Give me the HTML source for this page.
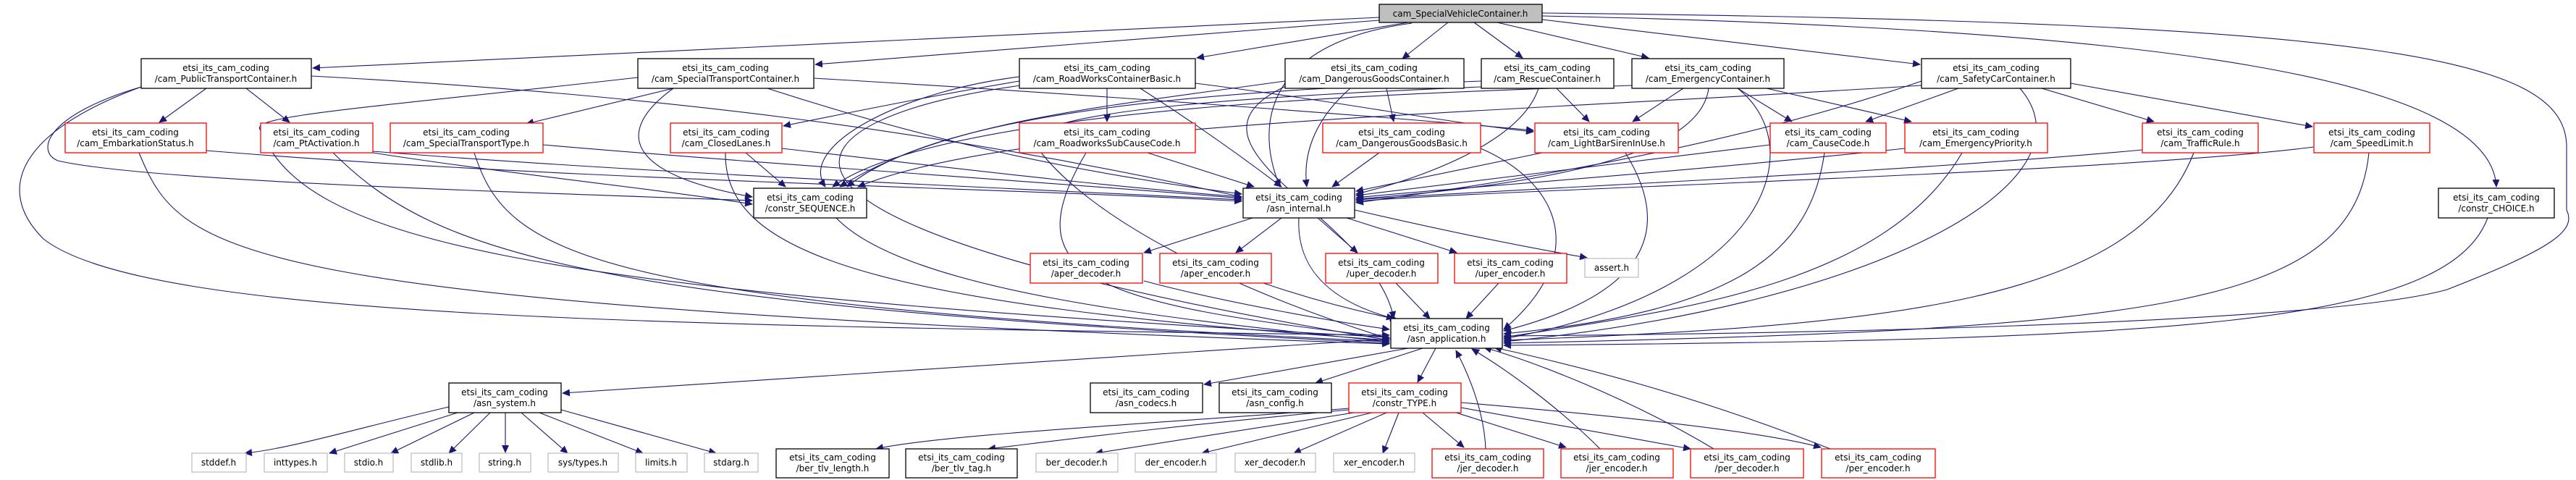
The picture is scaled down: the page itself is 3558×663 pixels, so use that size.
<!DOCTYPE html>
<html><head><meta charset="utf-8"><style>
html,body{margin:0;padding:0;background:#fff;}
svg{display:block;}
text{font-family:"DejaVu Sans","Liberation Sans",sans-serif;font-size:12px;fill:#000;}
.b{fill:#fff;stroke:#000;stroke-width:1.3}
.r{fill:#fff;stroke:#ff0000;stroke-width:1.3}
.g{fill:#fff;stroke:#bfbfbf;stroke-width:1.3}
.e{fill:none;stroke:#191970;stroke-width:1.1}
</style></head><body>
<svg width="3558" height="663" viewBox="0 0 3558 663" xmlns="http://www.w3.org/2000/svg">
<defs><marker id="a" markerWidth="11" markerHeight="10" refX="10" refY="5" orient="auto" markerUnits="userSpaceOnUse"><path d="M0,0 L11,5 L0,10 Z" fill="#191970"/></marker></defs>
<g class="e" marker-end="url(#a)">
<!-- SVC -->
<path d="M1905,24 L432,94"/>
<path d="M1905,28 L1126,89"/>
<path d="M1945,31 L1653,80"/>
<path d="M2000,31 L1937,81"/>
<path d="M2036,31 L2103,80"/>
<path d="M2068,31 L2277,80"/>
<path d="M2130,27 L2652,89"/>
<path d="M1950,32 C1740,60 1735,180 1768,258"/>
<path d="M2130,22 C3000,40 3440,110 3448,258"/>
<path d="M2130,18 C3300,30 3540,80 3545,200 L3545,290 C3560,320 3520,345 3380,400 C3200,450 2400,462 2077,464"/>
<!-- PT -->
<path d="M285,122 L220,169"/>
<path d="M340,122 L400,169"/>
<path d="M430,105 C900,130 1300,180 1715,272"/>
<path d="M195,120 C60,160 50,210 80,222 C200,250 700,265 1039,277"/>
<path d="M195,120 C30,180 -10,260 60,330 C200,440 900,450 1919,463"/>
<!-- ST -->
<path d="M930,122 L727,171"/>
<path d="M930,122 C850,180 860,240 1039,272"/>
<path d="M1060,122 C1300,200 1500,240 1715,268"/>
<path d="M1124,108 C1500,130 1900,160 2118,180"/>
<path d="M881,107 C500,150 340,160 360,180 C420,330 700,400 1919,466"/>
<!-- RW -->
<path d="M1529,122 L1529,168"/>
<path d="M1408,112 C1300,130 1200,150 1082,174"/>
<path d="M1575,122 C1650,170 1720,220 1770,258"/>
<path d="M1408,106 C1250,125 1100,200 1140,258"/>
<path d="M1410,118 C1100,160 900,300 1919,470"/>
<path d="M1651,115 C1850,140 2000,170 2118,182"/>
<!-- DG -->
<path d="M1915,122 L1925,168"/>
<path d="M1865,122 C1810,170 1800,220 1805,258"/>
<path d="M1775,112 C1500,150 1300,170 1160,258"/>
<path d="M1778,118 C1600,200 1900,300 1925,440"/>
<!-- RC -->
<path d="M2150,122 L2195,168"/>
<path d="M2125,122 C2100,200 1950,250 1873,268"/>
<path d="M2046,112 C1700,125 1300,150 1170,258"/>
<path d="M2046,120 C1800,130 1400,150 1430,200 C1500,300 1700,400 1919,468"/>
<!-- EM -->
<path d="M2325,122 L2255,168"/>
<path d="M2400,122 L2475,168"/>
<path d="M2440,122 L2640,168"/>
<path d="M2360,122 C2350,200 2200,250 1873,275"/>
<path d="M2254,118 C1900,130 1300,150 1150,258"/>
<path d="M2400,122 C2500,200 2450,400 2077,468"/>
<!-- SC -->
<path d="M2705,122 L2577,168"/>
<path d="M2820,122 L2975,168"/>
<path d="M2860,115 L3194,175"/>
<path d="M2654,112 C2400,200 2100,250 1873,280"/>
<path d="M2654,118 C2000,160 1400,170 1185,258"/>
<path d="M2790,122 C2900,250 2600,420 2077,472"/>
<!-- types -->
<path d="M285,208 C800,250 1400,260 1715,278"/>
<path d="M192,211 C250,350 300,420 1919,475"/>
<path d="M515,211 C700,240 900,260 1039,282"/>
<path d="M515,209 C900,240 1400,260 1715,276"/>
<path d="M460,211 C600,350 800,420 1919,474"/>
<path d="M750,200 C1100,230 1500,255 1715,274"/>
<path d="M655,211 C700,350 800,420 1919,472"/>
<path d="M1030,211 L1085,258"/>
<path d="M1080,205 C1300,230 1500,255 1715,272"/>
<path d="M1002,211 C1000,350 1200,420 1919,470"/>
<path d="M1585,211 L1732,258"/>
<path d="M1500,211 C1400,380 1500,420 1919,466"/>
<path d="M1905,211 L1840,258"/>
<path d="M2045,205 C2150,250 2200,350 2077,455"/>
<path d="M2130,211 L1873,264"/>
<path d="M2245,211 C2300,300 2300,400 2077,457"/>
<path d="M2445,200 C2200,230 2000,255 1873,270"/>
<path d="M2520,211 C2500,350 2400,430 2077,461"/>
<path d="M2631,205 C2300,240 2000,260 1873,273"/>
<path d="M2710,211 C2600,400 2300,430 2077,466"/>
<path d="M2959,207 C2600,240 2100,260 1873,276"/>
<path d="M3030,211 C2950,420 2600,450 2077,470"/>
<path d="M3196,203 C2900,240 2100,260 1873,278"/>
<path d="M3272,211 C3250,420 3000,455 2077,474"/>
<path d="M1155,301 C1250,400 1600,440 1919,472"/>
<path d="M3436,301 C3380,450 3000,470 2077,477"/>
<!-- AI -->
<path d="M1730,301 L1580,349"/>
<path d="M1770,301 L1707,349"/>
<path d="M1820,301 L1875,349"/>
<path d="M1860,301 L2012,349"/>
<path d="M1871,290 C2000,320 2100,340 2192,356"/>
<path d="M1794,301 C1790,380 1850,420 1925,440"/>
<path d="M1580,388 C1700,420 1850,445 1919,455"/>
<path d="M1745,391 C1830,420 1900,435 1930,441"/>
<path d="M1928,391 L1975,440"/>
<path d="M2070,391 L2025,440"/>
<!-- AA -->
<path d="M1921,468 L777,543"/>
<path d="M1945,481 L1663,531"/>
<path d="M1965,481 L1817,529"/>
<path d="M1983,481 L1958,528"/>
<!-- SYS -->
<path d="M620,562 C500,590 400,620 338,626"/>
<path d="M632,570 L455,626"/>
<path d="M655,570 L540,626"/>
<path d="M677,570 L620,626"/>
<path d="M698,570 L698,625"/>
<path d="M720,570 L784,626"/>
<path d="M745,570 L888,626"/>
<path d="M775,566 L989,626"/>
<!-- TYPE -->
<path d="M1863,564 C1600,585 1300,600 1210,620"/>
<path d="M1863,566 C1600,590 1450,610 1365,620"/>
<path d="M1870,570 L1513,626"/>
<path d="M1895,570 L1660,626"/>
<path d="M1915,570 L1787,626"/>
<path d="M1932,570 L1910,626"/>
<path d="M1965,570 L2022,618"/>
<path d="M2005,568 L2163,618"/>
<path d="M2018,563 L2335,620"/>
<path d="M2018,556 C2300,580 2450,600 2515,618"/>
<path d="M2052,620 C2050,570 2030,520 2011,484"/>
<path d="M2210,620 C2150,560 2080,510 2033,482"/>
<path d="M2367,620 C2250,550 2120,500 2050,480"/>
<path d="M2528,620 C2350,550 2200,510 2064,480"/>
</g>
<!-- nodes -->
<rect x="1905" y="6" width="225" height="25" fill="#bfbfbf" stroke="#000" stroke-width="1.3"/><text x="2017" y="23" text-anchor="middle">cam_SpecialVehicleContainer.h</text>
<g text-anchor="middle">
<rect class="b" x="195" y="81" width="235" height="41"/><text x="312" y="98">etsi_its_cam_coding</text><text x="312" y="113">/cam_PublicTransportContainer.h</text>
<rect class="b" x="881" y="81" width="243" height="41"/><text x="1002" y="98">etsi_its_cam_coding</text><text x="1002" y="113">/cam_SpecialTransportContainer.h</text>
<rect class="b" x="1408" y="81" width="243" height="41"/><text x="1529" y="98">etsi_its_cam_coding</text><text x="1529" y="113">/cam_RoadWorksContainerBasic.h</text>
<rect class="b" x="1775" y="81" width="247" height="41"/><text x="1898" y="98">etsi_its_cam_coding</text><text x="1898" y="113">/cam_DangerousGoodsContainer.h</text>
<rect class="b" x="2046" y="81" width="183" height="41"/><text x="2137" y="98">etsi_its_cam_coding</text><text x="2137" y="113">/cam_RescueContainer.h</text>
<rect class="b" x="2254" y="81" width="210" height="41"/><text x="2359" y="98">etsi_its_cam_coding</text><text x="2359" y="113">/cam_EmergencyContainer.h</text>
<rect class="b" x="2654" y="81" width="206" height="41"/><text x="2757" y="98">etsi_its_cam_coding</text><text x="2757" y="113">/cam_SafetyCarContainer.h</text>

<rect class="r" x="90" y="170" width="195" height="41"/><text x="187" y="187">etsi_its_cam_coding</text><text x="187" y="202">/cam_EmbarkationStatus.h</text>
<rect class="r" x="360" y="170" width="155" height="41"/><text x="437" y="187">etsi_its_cam_coding</text><text x="437" y="202">/cam_PtActivation.h</text>
<rect class="r" x="539" y="170" width="211" height="41"/><text x="644" y="187">etsi_its_cam_coding</text><text x="644" y="202">/cam_SpecialTransportType.h</text>
<rect class="r" x="926" y="170" width="154" height="41"/><text x="1003" y="187">etsi_its_cam_coding</text><text x="1003" y="202">/cam_ClosedLanes.h</text>
<rect class="r" x="1408" y="170" width="243" height="41"/><text x="1529" y="187">etsi_its_cam_coding</text><text x="1529" y="202">/cam_RoadworksSubCauseCode.h</text>
<rect class="r" x="1827" y="170" width="218" height="41"/><text x="1936" y="187">etsi_its_cam_coding</text><text x="1936" y="202">/cam_DangerousGoodsBasic.h</text>
<rect class="r" x="2120" y="170" width="198" height="41"/><text x="2219" y="187">etsi_its_cam_coding</text><text x="2219" y="202">/cam_LightBarSirenInUse.h</text>
<rect class="r" x="2445" y="170" width="160" height="41"/><text x="2525" y="187">etsi_its_cam_coding</text><text x="2525" y="202">/cam_CauseCode.h</text>
<rect class="r" x="2631" y="170" width="197" height="41"/><text x="2729" y="187">etsi_its_cam_coding</text><text x="2729" y="202">/cam_EmergencyPriority.h</text>
<rect class="r" x="2959" y="170" width="160" height="41"/><text x="3039" y="187">etsi_its_cam_coding</text><text x="3039" y="202">/cam_TrafficRule.h</text>
<rect class="r" x="3196" y="170" width="160" height="41"/><text x="3276" y="187">etsi_its_cam_coding</text><text x="3276" y="202">/cam_SpeedLimit.h</text>

<rect class="b" x="1041" y="260" width="156" height="41"/><text x="1119" y="277">etsi_its_cam_coding</text><text x="1119" y="292">/constr_SEQUENCE.h</text>
<rect class="b" x="1717" y="260" width="154" height="41"/><text x="1794" y="277">etsi_its_cam_coding</text><text x="1794" y="292">/asn_internal.h</text>
<rect class="b" x="3368" y="260" width="160" height="41"/><text x="3448" y="277">etsi_its_cam_coding</text><text x="3448" y="292">/constr_CHOICE.h</text>

<rect class="r" x="1423" y="350" width="155" height="41"/><text x="1500" y="367">etsi_its_cam_coding</text><text x="1500" y="382">/aper_decoder.h</text>
<rect class="r" x="1602" y="350" width="154" height="41"/><text x="1679" y="367">etsi_its_cam_coding</text><text x="1679" y="382">/aper_encoder.h</text>
<rect class="r" x="1831" y="350" width="155" height="41"/><text x="1908" y="367">etsi_its_cam_coding</text><text x="1908" y="382">/uper_decoder.h</text>
<rect class="r" x="2009" y="350" width="155" height="41"/><text x="2086" y="367">etsi_its_cam_coding</text><text x="2086" y="382">/uper_encoder.h</text>
<rect class="g" x="2189" y="357" width="74" height="26"/><text x="2226" y="374">assert.h</text>

<rect class="b" x="1921" y="440" width="154" height="41"/><text x="1998" y="457">etsi_its_cam_coding</text><text x="1998" y="472">/asn_application.h</text>

<rect class="b" x="620" y="529" width="155" height="41"/><text x="697" y="546">etsi_its_cam_coding</text><text x="697" y="561">/asn_system.h</text>
<rect class="b" x="1506" y="529" width="155" height="41"/><text x="1583" y="546">etsi_its_cam_coding</text><text x="1583" y="561">/asn_codecs.h</text>
<rect class="b" x="1684" y="529" width="155" height="41"/><text x="1761" y="546">etsi_its_cam_coding</text><text x="1761" y="561">/asn_config.h</text>
<rect class="r" x="1863" y="529" width="155" height="41"/><text x="1940" y="546">etsi_its_cam_coding</text><text x="1940" y="561">/constr_TYPE.h</text>

<rect class="g" x="265" y="626" width="75" height="26"/><text x="302" y="643">stddef.h</text>
<rect class="g" x="365" y="626" width="87" height="26"/><text x="408" y="643">inttypes.h</text>
<rect class="g" x="476" y="626" width="67" height="26"/><text x="509" y="643">stdio.h</text>
<rect class="g" x="568" y="626" width="70" height="26"/><text x="603" y="643">stdlib.h</text>
<rect class="g" x="662" y="626" width="71" height="26"/><text x="697" y="643">string.h</text>
<rect class="g" x="757" y="626" width="97" height="26"/><text x="805" y="643">sys/types.h</text>
<rect class="g" x="878" y="626" width="71" height="26"/><text x="913" y="643">limits.h</text>
<rect class="g" x="973" y="626" width="74" height="26"/><text x="1010" y="643">stdarg.h</text>
<rect class="b" x="1072" y="620" width="156" height="40"/><text x="1150" y="636">etsi_its_cam_coding</text><text x="1150" y="651">/ber_tlv_length.h</text>
<rect class="b" x="1251" y="620" width="154" height="40"/><text x="1328" y="636">etsi_its_cam_coding</text><text x="1328" y="651">/ber_tlv_tag.h</text>
<rect class="g" x="1431" y="626" width="113" height="26"/><text x="1487" y="643">ber_decoder.h</text>
<rect class="g" x="1568" y="626" width="112" height="26"/><text x="1624" y="643">der_encoder.h</text>
<rect class="g" x="1706" y="626" width="111" height="26"/><text x="1761" y="643">xer_decoder.h</text>
<rect class="g" x="1842" y="626" width="112" height="26"/><text x="1898" y="643">xer_encoder.h</text>
<rect class="r" x="1978" y="620" width="154" height="40"/><text x="2055" y="636">etsi_its_cam_coding</text><text x="2055" y="651">/jer_decoder.h</text>
<rect class="r" x="2156" y="620" width="155" height="40"/><text x="2233" y="636">etsi_its_cam_coding</text><text x="2233" y="651">/jer_encoder.h</text>
<rect class="r" x="2335" y="620" width="156" height="40"/><text x="2413" y="636">etsi_its_cam_coding</text><text x="2413" y="651">/per_decoder.h</text>
<rect class="r" x="2516" y="620" width="157" height="40"/><text x="2594" y="636">etsi_its_cam_coding</text><text x="2594" y="651">/per_encoder.h</text>
</g>
</svg>
</body></html>
